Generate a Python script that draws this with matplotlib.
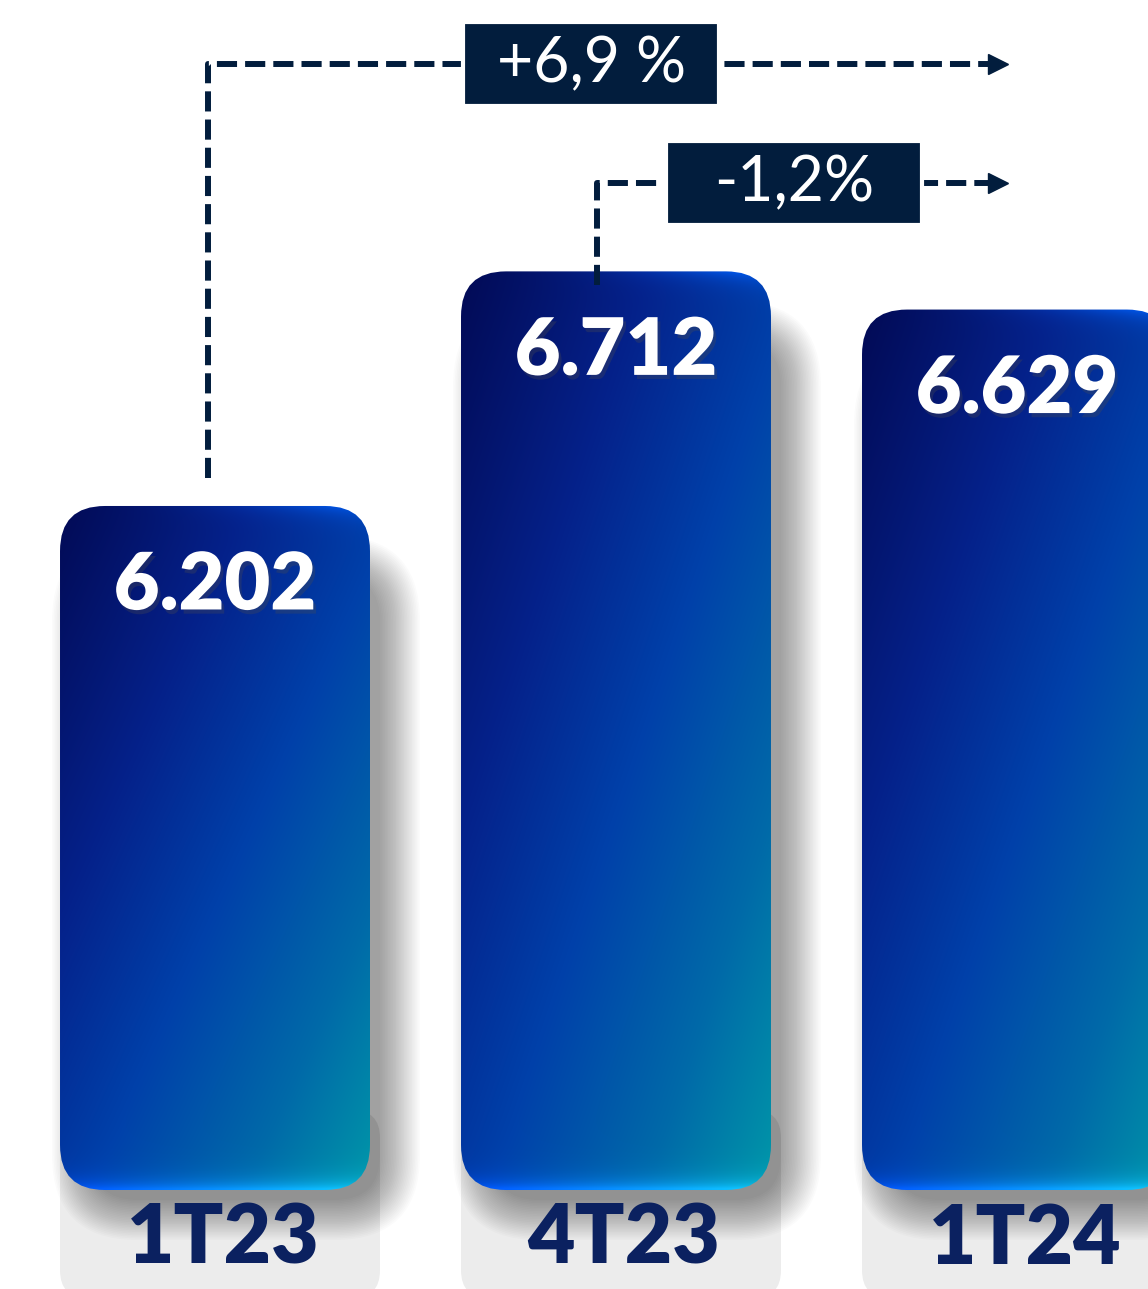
import numpy as np
import matplotlib
matplotlib.use('Agg')
import matplotlib.pyplot as plt
from matplotlib.patches import FancyBboxPatch, Rectangle
import matplotlib.patheffects as pe

plt.rcParams['lines.scale_dashes'] = False

# Data
categories = ['1T23', '4T23', '1T24']
values = [6202, 6712, 6629]
value_labels = ['6.202', '6.712', '6.629']
changes = ['+6,9 %', '-1,2%']

# Layout (pixels per unit)
W, H = 1148, 1289
px_x = 401.0      # px per category step
px_y = 0.46       # px per value unit
base = 4715       # bar baseline value
x_left = -215 / px_x
y_bottom = base - 99 / px_y
y_top = base + 1190 / px_y
aspect = px_x / px_y

navy = '#021d3d'
label_col = '#0b2160'

fig = plt.figure(figsize=(W / 100, H / 100), dpi=100)
ax = fig.add_axes([0, 0, 1, 1])
ax.axis('off')


def hex2rgb(h):
    h = h.lstrip('#')
    return np.array([int(h[i:i + 2], 16) for i in (0, 2, 4)]) / 255.0


def gradient(h_px, n=300, m=200):
    u = np.linspace(0, 1, m)[None, :]
    v = np.linspace(0, 1, n)[:, None]
    t = 0.5 * u + 0.5 * v
    stops = [0.0, 0.3, 0.55, 0.8, 1.0]
    cols = [hex2rgb(c) for c in ['#020a55', '#05218a', '#0041aa', '#006aa8', '#0096a8']]
    img = np.zeros((n, m, 3))
    for c in range(3):
        img[..., c] = np.interp(t, stops, [col[c] for col in cols])
    # bottom glow
    wb = np.exp(-(1 - v) * h_px / 9.0) * np.ones_like(u)
    glow = (1 - u)[..., None] * hex2rgb('#0050ff') + u[..., None] * hex2rgb('#10d0ff')
    glow = np.broadcast_to(glow, (n, m, 3))
    img = img * (1 - wb[..., None]) + glow * wb[..., None]
    # top-right glow
    wt = np.exp(-v * h_px / 10.0) * u ** 3
    img = img * (1 - wt[..., None]) + hex2rgb('#0060ff') * wt[..., None]
    return np.clip(img, 0, 1)


bar_w = 0.773
radius = 45 / px_x

for i, (cat, val, lab) in enumerate(zip(categories, values, value_labels)):
    x0 = i - bar_w / 2
    h = val - base

    # grey label box
    grey = FancyBboxPatch((x0, y_bottom - 20), bar_w + 10 / px_x, base + 80 / px_y - y_bottom + 20,
                          boxstyle=f'round,pad=0,rounding_size={28 / px_x}',
                          mutation_aspect=aspect, fc='#ececec', ec='none', zorder=1)
    ax.add_patch(grey)

    # soft shadow (offset right / down, kept off the left side)
    for k in range(26):
        p = k * 1.6 / px_x
        sh = FancyBboxPatch((x0 + 32 / px_x, base - 10 / px_y), bar_w - 22 / px_x, h - 60 / px_y,
                            boxstyle=f'round,pad={p},rounding_size={radius + p}',
                            mutation_aspect=aspect, fc='black', ec='none',
                            alpha=0.016, zorder=2)
        ax.add_patch(sh)

    # bar
    patch = FancyBboxPatch((x0, base), bar_w, h,
                           boxstyle=f'round,pad=0,rounding_size={radius}',
                           mutation_aspect=aspect, fc='none', ec='none', zorder=3)
    ax.add_patch(patch)
    im = ax.imshow(gradient(h * px_y), extent=(x0, x0 + bar_w, base, val),
                   origin='upper', aspect='auto', zorder=3, interpolation='bilinear')
    im.set_clip_path(patch)

    # value label
    ax.text(i, val - 80 / px_y, lab, ha='center', va='center', color='white',
            fontsize=57, fontweight='heavy', family=['Lato', 'DejaVu Sans'], zorder=5,
            path_effects=[pe.SimplePatchShadow(offset=(2, -3), alpha=0.3), pe.Normal()])

    # category label
    ax.text(i + 8 / px_x, base - 50 / px_y, cat, ha='center', va='center', color=label_col,
            fontsize=59, fontweight='heavy', family=['Lato', 'DejaVu Sans'], zorder=5)

# change arrows
top = max(values)
arrows = [
    # (start bar, x offset px, start value, level, box centre x, label)
    (0, -7, values[0] + 28 / px_y, top + 451, 0.938, changes[0]),
    (1, -19, values[1] - 14 / px_y, top + 192, 1.444, changes[1]),
]
x_end = 2 - 19 / px_x
for bar, dx, y0, level, bx, lab in arrows:
    xs = bar + dx / px_x
    ax.plot([xs, xs, x_end], [y0, level, level], color=navy, lw=4.3,
            linestyle=(0, (14.5, 5.8)), solid_joinstyle='miter', zorder=6)
    ax.plot([x_end], [level], marker='>', markersize=14, color=navy, mec=navy, zorder=6)
    bw, bh = 256 / px_x, 84 / px_y
    ax.add_patch(Rectangle((bx - bw / 2, level - bh / 2), bw, bh, fc=navy, ec='white',
                           lw=3, zorder=7))
    ax.text(bx, level, lab, ha='center', va='center', color='white', fontsize=45,
            fontweight='normal', family=['Lato', 'DejaVu Sans'], zorder=8)

ax.set_xlim(x_left, x_left + W / px_x)
ax.set_ylim(y_bottom, y_top)
ax.set_aspect('auto')

fig.savefig('out.png', dpi=100)
